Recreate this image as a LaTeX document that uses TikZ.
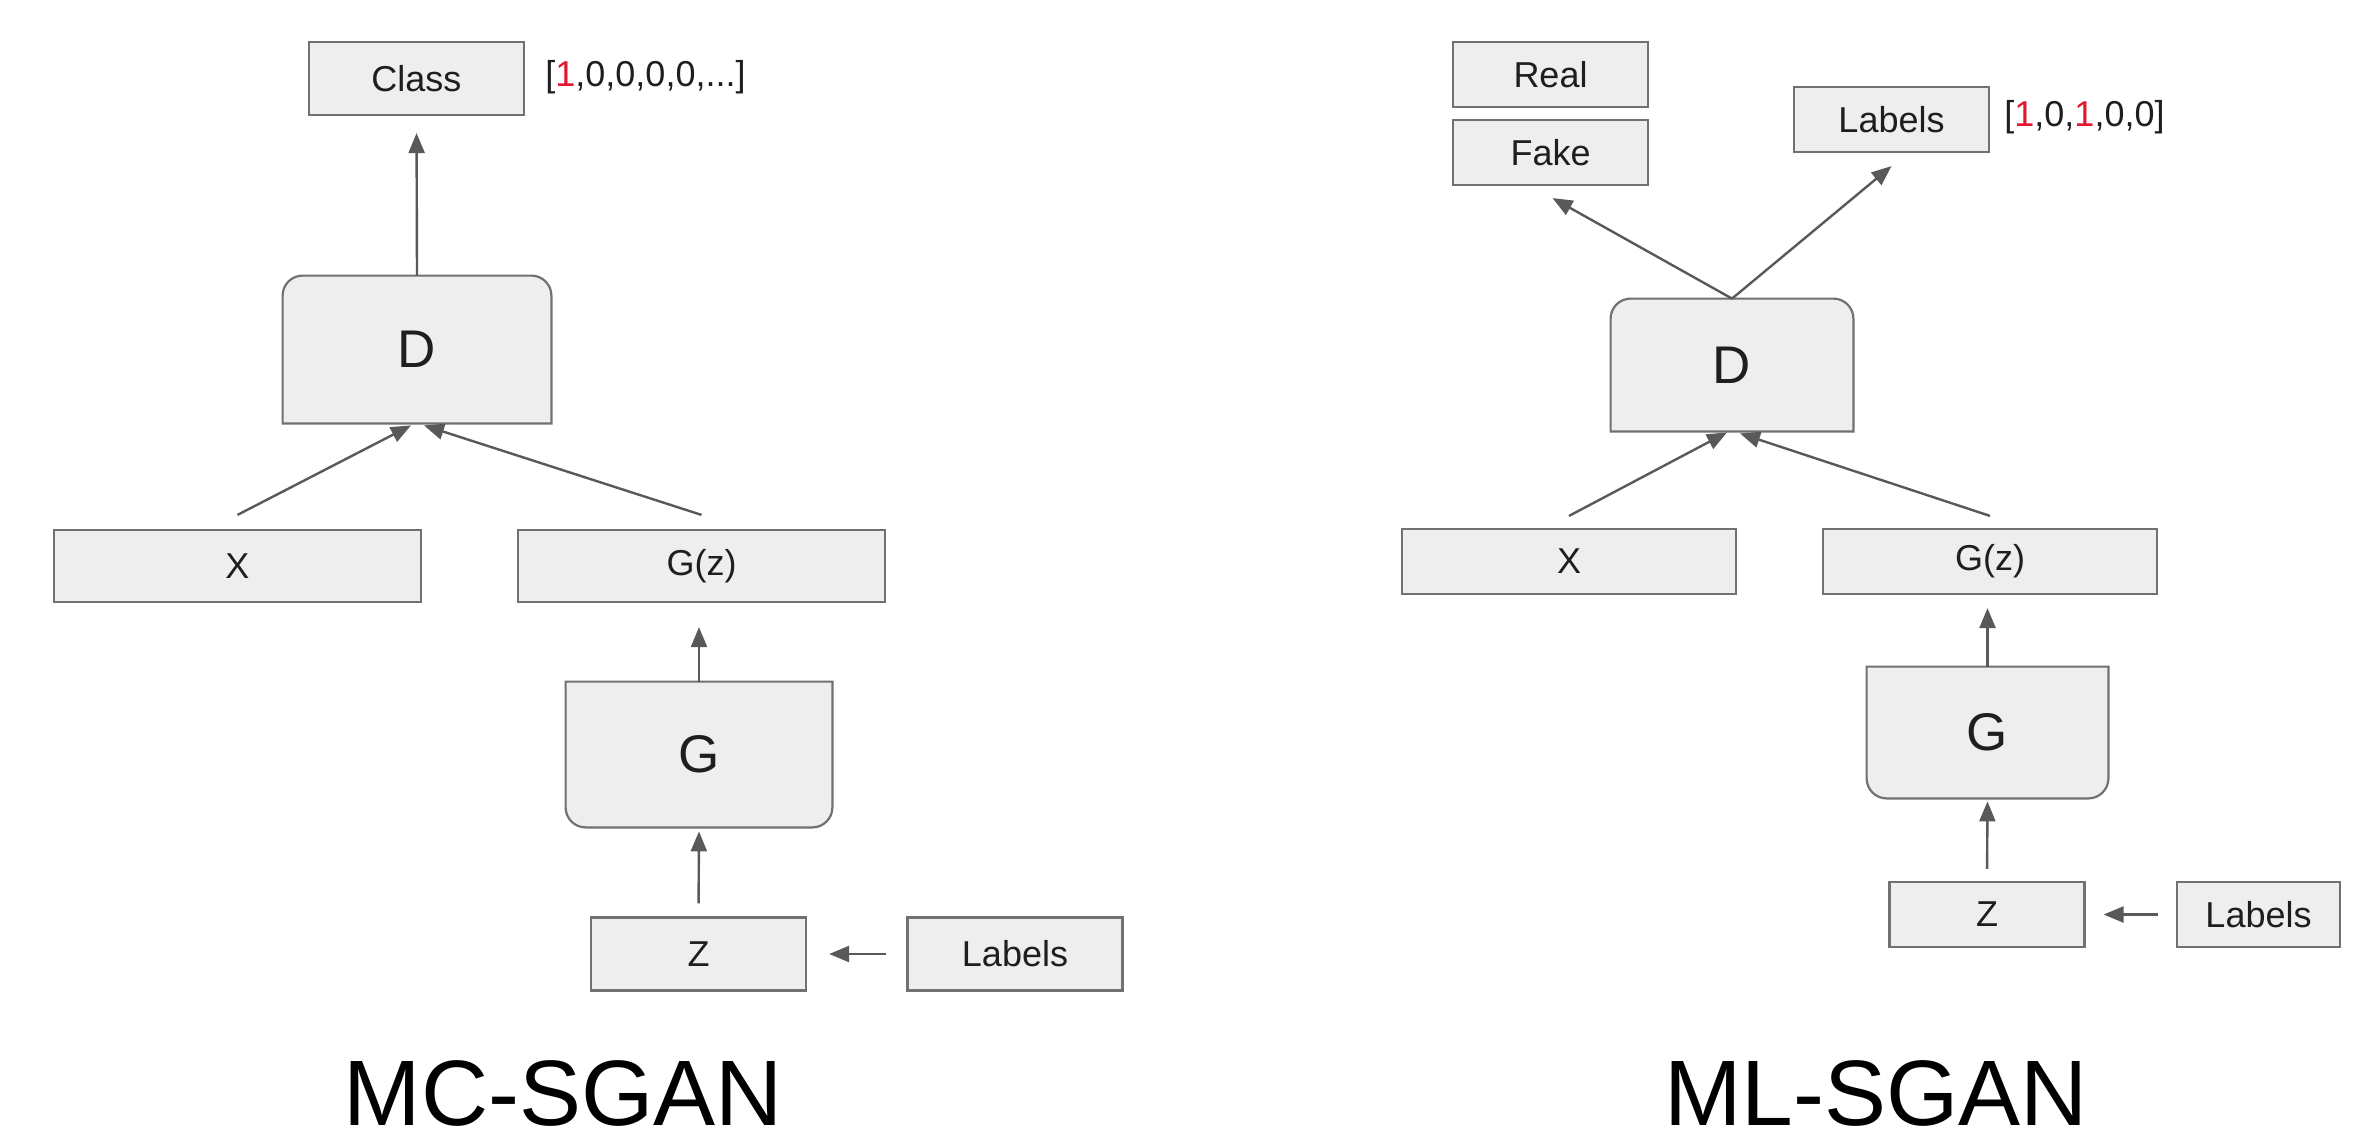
\documentclass[tikz,border=0pt]{standalone}
\usepackage{fontspec}
\setmainfont{Liberation Sans}
\usetikzlibrary{arrows.meta,backgrounds}
\definecolor{boxfill}{HTML}{EEEEEE}
\definecolor{edge}{HTML}{717171}
\definecolor{wire}{HTML}{595959}
\definecolor{ink}{HTML}{1E1E1E}
\definecolor{hot}{HTML}{E3172D}
\tikzset{
  box/.style={draw=edge, fill=boxfill, line width=1.1pt, text=ink, inner sep=0pt,
    font=\fontsize{18}{20}\selectfont},
  mcsmall/.style={minimum width=107.5pt, minimum height=36.5pt},
  mcwide/.style={minimum width=183.5pt, minimum height=36pt},
  mlsmall/.style={minimum width=97.5pt, minimum height=32.5pt},
  mlwide/.style={minimum width=167pt, minimum height=32.5pt},
  core/.style={text=ink, inner sep=0pt, font=\fontsize{26.5}{28}\selectfont},
  shell/.style={draw=edge, fill=boxfill, line width=1.1pt},
  arr/.style={draw=wire, line width=1.2pt, -{Triangle[length=10pt,width=8pt]}},
  vec/.style={text=ink, inner sep=0pt, font=\fontsize{18}{20}\selectfont},
  title/.style={inner sep=0pt, font=\fontsize{46.5}{50}\selectfont}
}
\begin{document}
\begin{tikzpicture}[x=0.5pt, y=-0.5pt]
      \useasboundingbox (0,0) rectangle (2353,1135);
      %%MC-SGAN
        \node[box, mcsmall] (mcClass) at (416.5,78.5) {Class};
        \node[vec, anchor=west] (mcVec) at (545,77) {[\textcolor{hot}{1},0,0,0,0,...]};
        \node[core, minimum width=134pt, minimum height=73.5pt] (mcD) at (417,349.5) {D};
        \node[box, mcwide] (mcX) at (237.5,566) {X};
        \node[box, mcwide] (mcGz) at (701.5,566) {G(z)};
        \node[core, minimum width=133pt, minimum height=72.5pt] (mcG) at (699,754.5) {G};
        \node[box, mcsmall] (mcZ) at (698.5,954) {Z};
        \node[box, mcsmall] (mcLab) at (1015,954) {Labels};
        \node[title] (mcTitle) at (563.5,1093) {MC-SGAN};

        \draw[arr, shorten >=8.5pt] (mcD.north) -- (mcClass.south);
        \draw[arr] ([yshift=7pt]mcX.north) -- ([xshift=-3pt,yshift=-1pt]mcD.south);
        \draw[arr] ([yshift=7pt]mcGz.north) -- ([xshift=3.5pt,yshift=-1pt]mcD.south);
        \draw[arr, shorten >=12pt] (mcG.north) -- (mcG.north |- mcGz.south);
        \draw[arr, shorten <=6.5pt, shorten >=2pt] (mcZ.north) -- (mcG.south);
        \draw[arr, shorten <=10pt, shorten >=11pt] (mcLab.west) -- (mcZ.east);

      %%ML-SGAN
        \node[box, mlsmall] (mlReal) at (1550.5,74.5) {Real};
        \node[box, mlsmall] (mlFake) at (1550.5,152.5) {Fake};
        \node[box, mlsmall] (mlLab) at (1891.5,119.5) {Labels};
        \node[vec, anchor=west] (mlVec) at (2004,117) {[\textcolor{hot}{1},0,\textcolor{hot}{1},0,0]};
        \node[core, minimum width=121pt, minimum height=66pt] (mlD) at (1732,365) {D};
        \node[box, mlwide] (mlX) at (1569,561.5) {X};
        \node[box, mlwide] (mlGz) at (1990,561.5) {G(z)};
        \node[core, minimum width=120.5pt, minimum height=65.5pt] (mlG) at (1987.5,732.5) {G};
        \node[box, mlsmall] (mlZ) at (1987,914.5) {Z};
        \node[box, mlsmall, minimum width=81.5pt] (mlLabIn) at (2258.5,914.5) {Labels};
        \node[title] (mlTitle) at (1876,1093) {ML-SGAN};

        \draw[arr] (mlD.north) -- ([xshift=1pt,yshift=-6pt]mlFake.south);
        \draw[arr] (mlD.north) -- ([yshift=-6.5pt]mlLab.south);
        \draw[arr] ([yshift=6pt]mlX.north) -- ([xshift=-2.5pt,yshift=-0.5pt]mlD.south);
        \draw[arr] ([yshift=6pt]mlGz.north) -- ([xshift=4pt,yshift=-1pt]mlD.south);
        \draw[arr, shorten >=6.5pt] (mlG.north) -- (mlG.north |- mlGz.south);
        \draw[arr, shorten <=6pt, shorten >=1.5pt] (mlZ.north) -- (mlG.south);
        \draw[arr, shorten <=9pt, shorten >=9pt] (mlLabIn.west) -- (mlZ.east);

      %%D and G bodies
      \begin{scope}[on background layer]
        \draw[shell] (mcD.south west) [rounded corners=10pt] -- (mcD.north west) -- (mcD.north east)
          [sharp corners] -- (mcD.south east) -- cycle;
        \draw[shell] (mcG.north west) [rounded corners=10pt] -- (mcG.south west) -- (mcG.south east)
          [sharp corners] -- (mcG.north east) -- cycle;
        \draw[shell] (mlD.south west) [rounded corners=10pt] -- (mlD.north west) -- (mlD.north east)
          [sharp corners] -- (mlD.south east) -- cycle;
        \draw[shell] (mlG.north west) [rounded corners=10pt] -- (mlG.south west) -- (mlG.south east)
          [sharp corners] -- (mlG.north east) -- cycle;
      \end{scope}
\end{tikzpicture}
\end{document}
